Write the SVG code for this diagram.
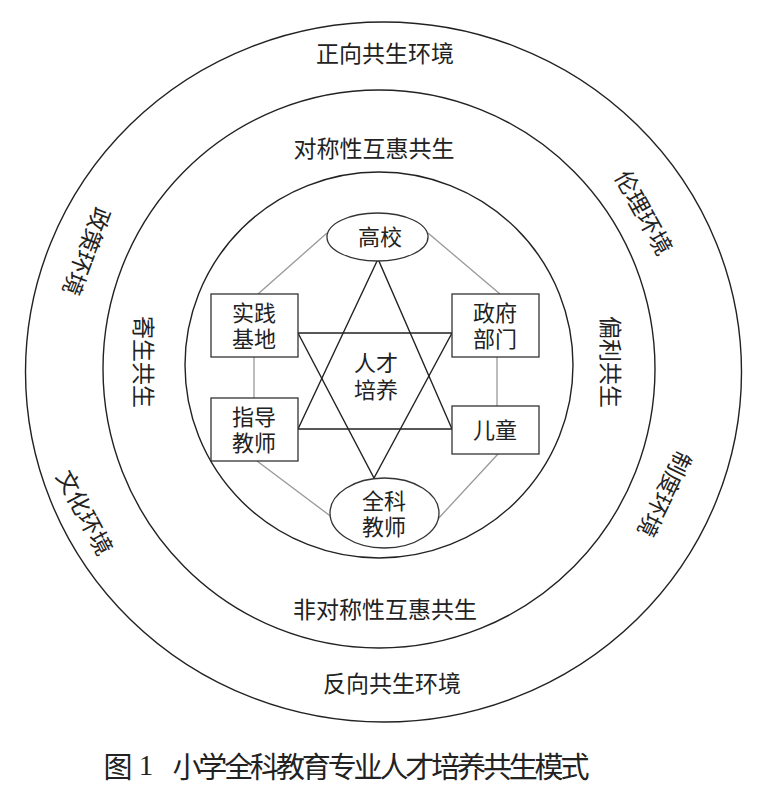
<svg xmlns="http://www.w3.org/2000/svg" width="778" height="800" viewBox="0 0 778 800">
<style>
.ring{fill:none;stroke:#222;stroke-width:1.4}
.box{fill:#fff;stroke:#333;stroke-width:1.3}
.star{fill:none;stroke:#222;stroke-width:1.4}
.gray{stroke:#999;stroke-width:1.3;fill:none}
text{font-family:"Noto Sans CJK SC","Noto Sans CJK JP",sans-serif;fill:#222;text-anchor:middle;dominant-baseline:central}
.lbl{font-size:23px}
.node{font-size:22px;font-family:"Liberation Serif","Noto Sans CJK SC",serif}
.cap{font-size:29px}
</style>
<rect width="778" height="800" fill="#fff"/>
<g id="rings">
<ellipse class="ring" cx="383.5" cy="372" rx="358" ry="350"/>
<ellipse class="ring" cx="379" cy="369" rx="276" ry="279"/>
<ellipse class="ring" cx="379" cy="365" rx="194" ry="193"/>
</g>
<g id="ring-labels">
<text class="lbl" x="385" y="52">正向共生环境</text>
<text class="lbl" x="374" y="147">对称性互惠共生</text>
<text class="lbl" x="385" y="608">非对称性互惠共生</text>
<text class="lbl" x="392" y="682">反向共生环境</text>
<text class="lbl" transform="translate(145,362) rotate(90)">寄生共生</text>
<text class="lbl" transform="translate(612,362) rotate(90)">偏利共生</text>
<text class="lbl" transform="translate(88,252) rotate(111)">政策环境</text>
<text class="lbl" transform="translate(86,512) rotate(62)">文化环境</text>
<text class="lbl" transform="translate(645,212) rotate(61)">伦理环境</text>
<text class="lbl" transform="translate(666,495) rotate(116)">制度环境</text>
</g>
<g id="connectors">
<line class="gray" x1="327" y1="233" x2="258" y2="294"/>
<line class="gray" x1="428" y1="233" x2="500" y2="294"/>
<line class="gray" x1="254" y1="357" x2="254" y2="398"/>
<line class="gray" x1="497" y1="357" x2="497" y2="406"/>
<line class="gray" x1="257" y1="461" x2="333" y2="518"/>
<line class="gray" x1="498" y1="454" x2="437" y2="520"/>
<polygon class="star" points="378,259 298,429 452,429"/>
<polygon class="star" points="298,333 452,333 374,478"/>
</g>
<g id="node-gaoxiao">
<ellipse class="box" cx="377.5" cy="237" rx="50.5" ry="24"/>
<text class="node" x="380" y="237">高校</text>
</g>
<g id="node-quanke">
<ellipse class="box" cx="384.5" cy="513" rx="54.5" ry="35"/>
<text class="node"><tspan x="384" y="501">全科</tspan><tspan x="384" y="527">教师</tspan></text>
</g>
<g id="node-shijian">
<rect class="box" x="211" y="294" width="87" height="63"/>
<text class="node"><tspan x="254" y="313">实践</tspan><tspan x="254" y="339">基地</tspan></text>
</g>
<g id="node-zhidao">
<rect class="box" x="211" y="398" width="87" height="63"/>
<text class="node"><tspan x="254" y="417">指导</tspan><tspan x="254" y="443">教师</tspan></text>
</g>
<g id="node-zhengfu">
<rect class="box" x="452" y="294" width="87" height="63"/>
<text class="node"><tspan x="495" y="313">政府</tspan><tspan x="495" y="339">部门</tspan></text>
</g>
<g id="node-ertong">
<rect class="box" x="452" y="406" width="87" height="48"/>
<text class="node" x="495" y="430">儿童</text>
</g>
<g id="node-center">
<text class="node"><tspan x="376" y="363">人才</tspan><tspan x="376" y="390">培养</tspan></text>
</g>
<g id="caption">
<text class="cap" x="118" y="765">图</text>
<text class="cap" x="146" y="765" style="font-family:'Liberation Serif',serif">1</text>
<text class="cap" x="381" y="765" textLength="417">小学全科教育专业人才培养共生模式</text>
</g>
</svg>
